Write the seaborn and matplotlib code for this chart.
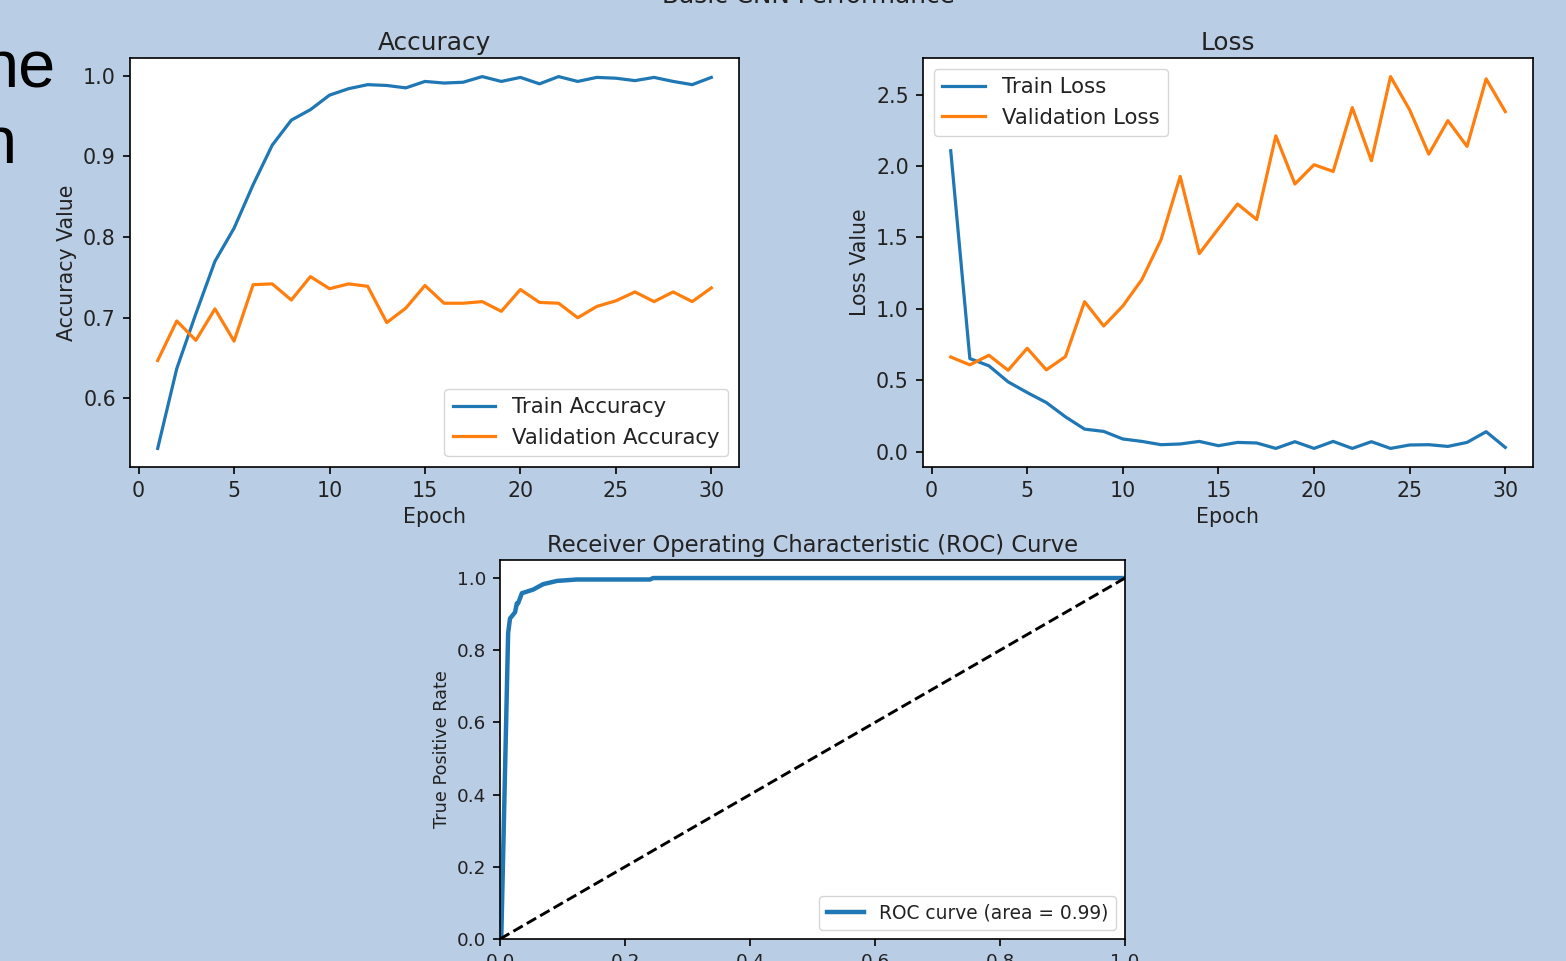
import seaborn as sns
import matplotlib.pyplot as plt

# training history
epochs = list(range(1, 31))
train_acc = [0.538, 0.637, 0.705, 0.770, 0.811, 0.865, 0.914, 0.945, 0.958, 0.976,
             0.984, 0.989, 0.988, 0.985, 0.993, 0.991, 0.992, 0.999, 0.993, 0.998,
             0.990, 0.999, 0.993, 0.998, 0.997, 0.994, 0.998, 0.993, 0.989, 0.998]
val_acc = [0.647, 0.696, 0.672, 0.711, 0.671, 0.741, 0.742, 0.722, 0.751, 0.736,
           0.742, 0.739, 0.694, 0.712, 0.740, 0.718, 0.718, 0.720, 0.708, 0.735,
           0.719, 0.718, 0.700, 0.714, 0.721, 0.732, 0.720, 0.732, 0.720, 0.737]
train_loss = [2.107, 0.652, 0.601, 0.489, 0.414, 0.344, 0.244, 0.158, 0.142, 0.089,
              0.072, 0.049, 0.054, 0.072, 0.042, 0.065, 0.061, 0.023, 0.070, 0.023,
              0.072, 0.023, 0.070, 0.023, 0.047, 0.049, 0.037, 0.065, 0.140, 0.030]
val_loss = [0.663, 0.608, 0.675, 0.570, 0.724, 0.573, 0.666, 1.050, 0.880, 1.020,
            1.206, 1.485, 1.927, 1.387, 1.562, 1.734, 1.625, 2.211, 1.874, 2.009,
            1.962, 2.409, 2.037, 2.626, 2.393, 2.083, 2.318, 2.137, 2.610, 2.381]

# ROC curve points
roc_fpr = [0.0, 0.002, 0.013, 0.016, 0.024, 0.027, 0.029, 0.035, 0.053, 0.069,
           0.091, 0.123, 0.240, 0.245, 1.0]
roc_tpr = [0.0, 0.0, 0.847, 0.888, 0.905, 0.930, 0.930, 0.958, 0.968, 0.983,
           0.992, 0.996, 0.996, 1.0, 1.0]
roc_auc = 0.99

bg = '#b9cde5'
ink = '#222222'
plt.rcParams.update({
    'font.size': 14.8,
    'axes.titlesize': 17.8,
    'axes.labelsize': 14.8,
    'xtick.labelsize': 14.8,
    'ytick.labelsize': 14.8,
    'legend.fontsize': 15.3,
    'text.color': ink,
    'axes.labelcolor': ink,
    'xtick.labelcolor': ink,
    'ytick.labelcolor': ink,
    'lines.linewidth': 2.3,
    'axes.linewidth': 1.2,
    'xtick.major.width': 1.2,
    'ytick.major.width': 1.2,
    'xtick.major.size': 5.2,
    'ytick.major.size': 5.2,
    'xtick.major.pad': 5,
    'ytick.major.pad': 5,
})

fig = plt.figure(figsize=(15.66, 9.61), dpi=100, facecolor=bg)

# slide text peeking out on the left
fig.text(56 / 1566, 1 - 87 / 961, 'ne', ha='right', va='baseline',
         fontsize=48, family='Liberation Sans', color='black')
fig.text(17 / 1566, 1 - 163 / 961, 'n', ha='right', va='baseline',
         fontsize=48, family='Liberation Sans', color='black')

fig.suptitle('Basic CNN Performance', x=0.516, y=1 - 3 / 961, va='baseline', fontsize=17.8)

ax1 = fig.add_axes([130 / 1566, 494 / 961, 609 / 1566, 409 / 961])
sns.lineplot(x=epochs, y=train_acc, color='#1f77b4', label='Train Accuracy', ax=ax1)
sns.lineplot(x=epochs, y=val_acc, color='#ff7f0e', label='Validation Accuracy', ax=ax1)
ax1.set_title('Accuracy')
ax1.set_xlabel('Epoch')
ax1.set_ylabel('Accuracy Value')
ax1.set_xticks([0, 5, 10, 15, 20, 25, 30])
ax1.legend(loc='lower right')

ax2 = fig.add_axes([923 / 1566, 494 / 961, 610 / 1566, 409 / 961])
sns.lineplot(x=epochs, y=train_loss, color='#1f77b4', label='Train Loss', ax=ax2)
sns.lineplot(x=epochs, y=val_loss, color='#ff7f0e', label='Validation Loss', ax=ax2)
ax2.set_title('Loss')
ax2.set_xlabel('Epoch')
ax2.set_ylabel('Loss Value')
ax2.set_xticks([0, 5, 10, 15, 20, 25, 30])
ax2.legend(loc='upper left')

# the ROC figure was pasted at a slightly smaller scale
ax3 = fig.add_axes([500 / 1566, 22 / 961, 625 / 1566, 379 / 961])
sns.lineplot(x=roc_fpr, y=roc_tpr, sort=False, estimator=None, color='#1f77b4',
             linewidth=3.2, label='ROC curve (area = %0.2f)' % roc_auc, ax=ax3)
ax3.plot([0, 1], [0, 1], 'k--', linewidth=2.1)
ax3.set_xlim([0.0, 1.0])
ax3.set_ylim([0.0, 1.05])
ax3.set_xlabel('False Positive Rate', fontsize=12.7)
ax3.set_ylabel('True Positive Rate', fontsize=12.7)
ax3.tick_params(labelsize=13.2, length=4.8)
ax3.set_title('Receiver Operating Characteristic (ROC) Curve', fontsize=16.3)
ax3.legend(loc='lower right', fontsize=13.4)

fig.savefig('out.png', dpi=100, facecolor=bg)
